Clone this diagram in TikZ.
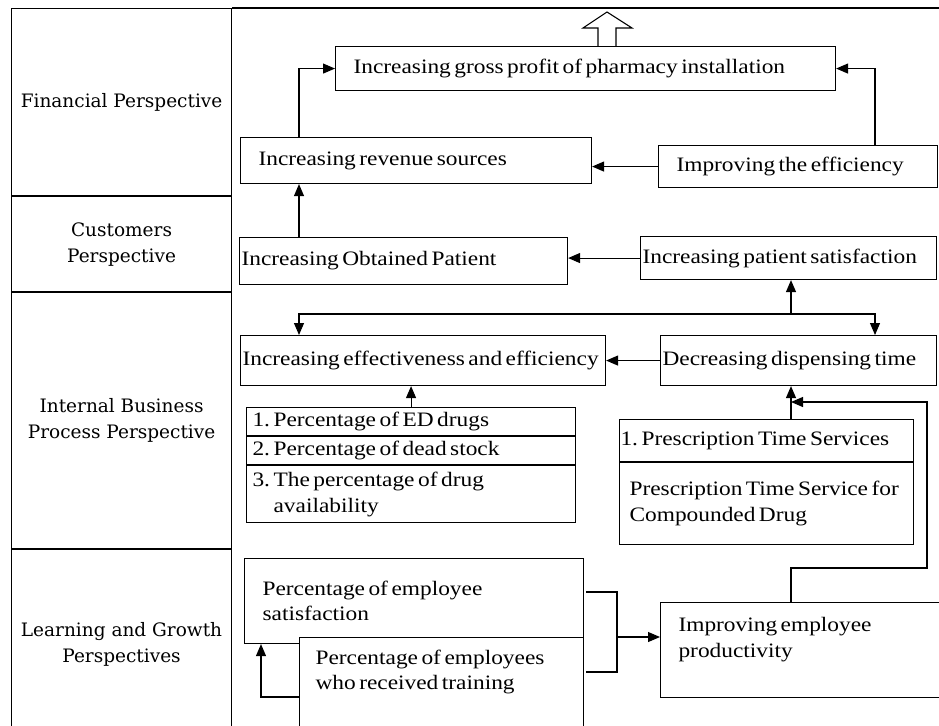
\documentclass[tikz,border=0pt]{standalone}
\usepackage{fontspec}
\setmainfont{Liberation Serif}[FakeStretch=1.14]
\newfontfamily\lanefont{DejaVu Serif}
\usetikzlibrary{arrows.meta,positioning,calc}

\begin{document}
\begin{tikzpicture}[x=1pt,y=-1pt,>={Triangle[length=12pt,width=10pt]},
  line width=1.1pt,
  box/.style={draw,fill=white,anchor=north west,align=left,inner ysep=0pt,
    font=\fontsize{20.5}{25.5}\selectfont,
    execute at begin node={\spaceskip=3.5pt plus 1pt minus 1pt\xspaceskip=\spaceskip\relax}},
  lane/.style={draw,anchor=north west,align=center,minimum width=220pt,
    font=\lanefont\fontsize{18.5}{26}\selectfont},
  arr/.style={->},
  every node/.style={line width=1.1pt}]
\useasboundingbox (0,0) rectangle (939,725);
% perspectives column
\node[lane,minimum height=187pt] (fin) at (11,8) {Financial Perspective};
\node[lane,minimum height=95pt] (cust) at (fin.south west) {Customers\\Perspective};
\node[lane,minimum height=256pt] (ibp) at (cust.south west) {Internal Business\\Process Perspective};
\node[lane,minimum height=190pt] (lg) at (ibp.south west) {Learning and Growth\\Perspectives};
\draw (fin.north east) -- (945,8);
% hollow arrow on top
\draw[fill=white] (598,46) -- (598,28) -- (583,28) -- (607,12)
  -- (632,28) -- (616,28) -- (616,46);
% boxes
\node[box,text width=464pt,inner xsep=18pt,minimum height=44pt] (profit) at (335,46)
  {Increasing gross profit of pharmacy installation};
\node[box,text width=315pt,inner xsep=18pt,minimum height=46pt] (rev) at (240,137)
  {Increasing revenue sources};
\node[box,text width=243pt,inner xsep=18pt,minimum height=42pt] (eff) at (658,145)
  {Improving the efficiency};
\node[box,text width=324pt,inner xsep=2pt,minimum height=47pt] (obt) at (239,237)
  {Increasing Obtained Patient};
\node[box,text width=292pt,inner xsep=2pt,minimum height=43pt] (psat) at (640,236)
  {Increasing patient satisfaction};
\node[box,text width=361pt,inner xsep=2pt,minimum height=50pt] (effect) at (240,335)
  {Increasing effectiveness and efficiency};
\node[box,text width=272pt,inner xsep=2pt,minimum height=50pt] (disp) at (660,335)
  {Decreasing dispensing time};
\node[box,text width=317pt,inner xsep=6pt,minimum height=28pt] (ed1) at (246,407)
  {1. Percentage of ED drugs};
\node[box,text width=317pt,inner xsep=6pt,minimum height=28pt] (ed2) at (ed1.south west)
  {2. Percentage of dead stock};
\node[box,text width=317pt,inner xsep=6pt,minimum height=57pt] (ed3) at (ed2.south west)
  {3. The percentage of drug\\\hphantom{3. }availability};
\node[box,text width=292pt,inner xsep=1pt,minimum height=42pt] (pr1) at (619,419)
  {1. Prescription Time Services};
\node[box,text width=274pt,inner xsep=10pt,minimum height=82pt] (pr2) at (pr1.south west)
  {Prescription Time Service for\\Compounded Drug};
\node[box,text width=303pt,inner xsep=18pt,minimum height=85pt] (empsat) at (244,558)
  {Percentage of employee\\satisfaction};
\node[box,text width=252pt,inner xsep=16pt,minimum height=90pt] (train) at (299,637)
  {Percentage of employees\\who received training\\\mbox{}};
\node[box,text width=254pt,inner xsep=18pt,minimum height=95pt] (prod) at (660,602)
  {Improving employee\\productivity\\\mbox{}};
% helper points
\coordinate (cL) at (299,0);
\coordinate (cR) at (875,0);
\coordinate (cM) at (791,0);
\coordinate (split) at (791,314);
\coordinate (fb) at (927,568);
\coordinate (fbin) at (791,402);
\coordinate (bt) at (617,592);
\coordinate (bm) at (617,637);
\coordinate (bb) at (617,672);
\coordinate (tl) at (261,697);
% connectors
\draw[arr] (cL |- rev.north) |- (profit.west);
\draw[arr] (cR |- eff.north) |- (profit.east);
\draw[arr] (eff.west) -- (eff.west -| rev.east);
\draw[arr] (cL |- obt.north) -- (cL |- rev.south);
\draw[arr] (psat.west) -- (psat.west -| obt.east);
\draw[<->] (cL |- effect.north) |- (split) -| (cR |- disp.north);
\draw[arr] (split) -- (split |- psat.south);
\draw[arr] (disp.west) -- (disp.west -| effect.east);
\draw[arr] (ed1.north) -- (ed1.north |- effect.south);
\draw[arr] (cM |- pr1.north) -- (cM |- disp.south);
\draw[arr] (cM |- prod.north) |- (fb) |- (fbin);
\draw ([xshift=2pt]bt -| empsat.east) -- (bt) -- (bb) -- ([xshift=2pt]bb -| train.east);
\draw[arr] (bm) -- (bm -| prod.west);
\draw[arr] (tl -| train.west) -- (tl) -- (tl |- empsat.south);
\end{tikzpicture}
\end{document}
